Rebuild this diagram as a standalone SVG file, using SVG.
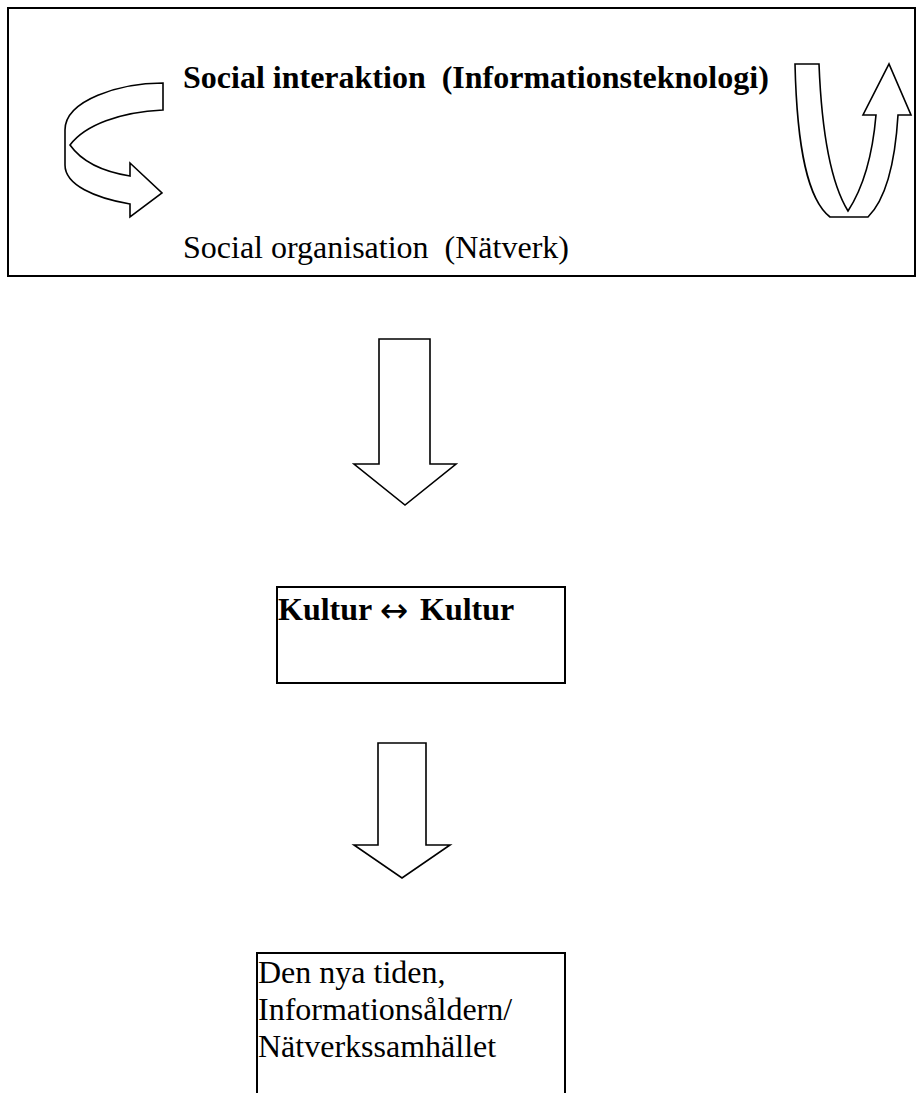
<svg xmlns="http://www.w3.org/2000/svg" width="922" height="1093" viewBox="0 0 922 1093">
<style>
.box{fill:#fff;stroke:#000;stroke-width:2}
.arr{fill:#fff;stroke:#000;stroke-width:1.6;stroke-linejoin:miter}
.t{font-family:"Liberation Serif","Times New Roman",serif;font-size:32px;fill:#000;white-space:pre}
.b{font-weight:bold}
.sym{font-family:"DejaVu Sans",sans-serif;font-weight:normal;font-size:34px}
</style>
<rect width="922" height="1093" fill="#fff"/>
<g id="top-box">
<rect class="box" x="8" y="8" width="907" height="268"/>
<text class="t b" x="183" y="88" xml:space="preserve">Social interaktion  (Informationsteknologi)</text>
<text class="t" x="183" y="258" xml:space="preserve">Social organisation  (Nätverk)</text>
</g>
<g id="connectors">
<path id="curved-arrow-left" class="arr" d="M163,83 L163,110 C120,112 85,125 70,145 C82,162 105,172 130,176 L130,163 L162,193 L130,217 L130,204 C95,198 65,185 65,165 L65,130 C65,100 120,83 163,83 Z"/>
<path id="u-arrow-right" class="arr" d="M795,64 L819,64 C822,140 832,185 848,211 C865,185 873,150 876,115 L863,115 L889,64 L911,115 L898,115 C895,165 885,200 868,217 L830,217 C808,200 797,150 795,64 Z"/>
<path id="down-arrow-1" class="arr" d="M379,339 L430,339 L430,464 L456,464 L405,505 L354,464 L379,464 Z"/>
<path id="down-arrow-2" class="arr" d="M378,743 L426,743 L426,845 L450,845 L402,878 L354,845 L378,845 Z"/>
</g>
<g id="kultur">
<rect class="box" x="277" y="587" width="288" height="96"/>
<text class="t b" x="278" y="620">Kultur <tspan class="sym" y="622">↔</tspan><tspan x="420" y="620">Kultur</tspan></text>
</g>
<g id="nya-tiden">
<rect class="box" x="257" y="953" width="308" height="160"/>
<text class="t" x="258" y="983">Den nya tiden,</text>
<text class="t" x="258" y="1020">Informationsåldern/</text>
<text class="t" x="258" y="1057">Nätverkssamhället</text>
</g>
</svg>
